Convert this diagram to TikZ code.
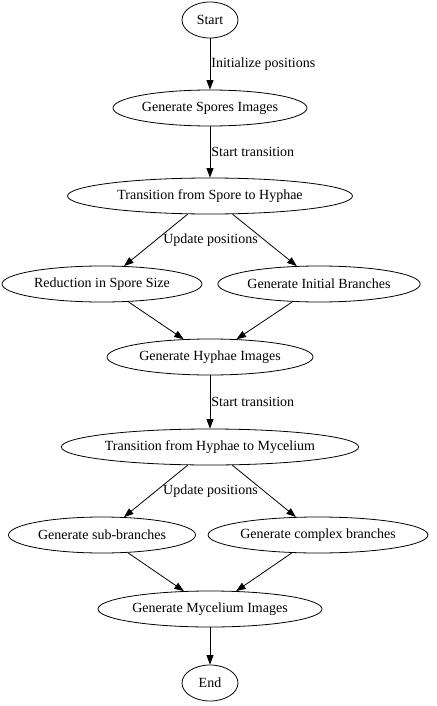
\documentclass[tikz,border=0pt]{standalone}
\usepackage{fontspec}
\setmainfont{Liberation Serif}
\usetikzlibrary{arrows.meta,shapes.geometric}
\tikzset{
  flow/.style={-{Triangle[length=9.5pt,width=7pt]},line width=0.8pt,draw=black},
  stage/.style={ellipse,draw=black,line width=0.8pt,inner sep=0pt,
    minimum height=36pt,font=\fontsize{14}{16}\selectfont},
  lbl/.style={font=\fontsize{14}{16}\selectfont,inner sep=1pt}
}

\begin{document}
\begin{tikzpicture}[x=1pt,y=-1pt]
  \useasboundingbox (0,0) rectangle (436,706);
  % spore stage
  \node[stage,minimum width=56pt] (start) at (210,20) {Start};
  \node[stage,minimum width=194pt] (spores) at (210,108) {Generate Spores Images};
  \node[stage,minimum width=285pt] (sporehyph) at (210,196) {Transition from Spore to Hyphae};
  \node[stage,minimum width=200pt] (shrink) at (102,284) {Reduction in Spore Size};
  \node[stage,minimum width=202pt] (initbr) at (319,284) {Generate Initial Branches};
  \node[stage,minimum width=206pt] (hyphae) at (210,357) {Generate Hyphae Images};
  % mycelium stage
  \node[stage,minimum width=296pt] (hyphmyc) at (210,447) {Transition from Hyphae to Mycelium};
  \node[stage,minimum width=187pt] (subbr) at (102,535) {Generate sub-branches};
  \node[stage,minimum width=217pt] (cplxbr) at (318,535) {Generate complex branches};
  \node[stage,minimum width=224pt] (mycel) at (210,609) {Generate Mycelium Images};
  \node[stage,minimum width=56pt] (finish) at (210,683) {End};

  \draw[flow] (start) -- node[lbl,right] {Initialize positions} (spores);
  \draw[flow] (spores) -- node[lbl,right] {Start transition} (sporehyph);
  \draw[flow] (sporehyph) -- node[lbl,pos=0.5,anchor=west,xshift=6pt] {Update positions} (shrink);
  \draw[flow] (sporehyph) -- (initbr);
  \draw[flow] (shrink) -- (hyphae);
  \draw[flow] (initbr) -- (hyphae);
  \draw[flow] (hyphae) -- node[lbl,right] {Start transition} (hyphmyc);
  \draw[flow] (hyphmyc) -- node[lbl,pos=0.5,anchor=west,xshift=6pt] {Update positions} (subbr);
  \draw[flow] (hyphmyc) -- (cplxbr);
  \draw[flow] (subbr) -- (mycel);
  \draw[flow] (cplxbr) -- (mycel);
  \draw[flow] (mycel) -- (finish);
\end{tikzpicture}
\end{document}
